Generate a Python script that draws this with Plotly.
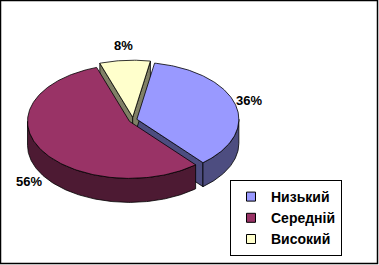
import numpy as np
import plotly.graph_objects as go

categories = ["Низький", "Середній", "Високий"]
values = [36, 56, 8]
labels = ["36%", "56%", "8%"]
top_colors = ["#9999FF", "#993366", "#FFFFCC"]
side_colors = ["#4D4D80", "#4D1A33", "#808066"]

# geometry of the projected 3D pie (plot units = pixels)
CX, CY, A, B, DEPTH = 133, 120, 102, 57, 24
START = 10       # degrees clockwise from 12 o'clock
EXPLODE = 4
LABEL_OFF = 18

W, H = 379, 265


def rim(theta, ox, oy, dz=0.0):
    t = np.radians(theta)
    return ox + A * np.sin(t), oy - B * np.cos(t) + dz


total = float(sum(values))
angles = []
acc = START
for v in values:
    span = v / total * 360.0
    angles.append((acc, acc + span))
    acc += span

walls_radial = []
walls_curved = []
tops = []
annots = []

for i, (t1, t2) in enumerate(angles):
    mid = (t1 + t2) / 2
    mr = np.radians(mid)
    ox = CX + EXPLODE * np.sin(mr)
    oy = CY - EXPLODE * np.cos(mr) * 0.7

    # radial walls
    for th, sign in ((t1, -1), (t2, 1)):
        if sign * np.sin(np.radians(th)) > 0:
            rx, ry = rim(th, ox, oy)
            xs = [ox, rx, rx, ox, ox]
            ys = [oy, ry, ry + DEPTH, oy + DEPTH, oy]
            walls_radial.append((xs, ys, side_colors[i]))

    # curved outer wall (front half: 90..270 deg)
    for base in (0, 360):
        lo = max(t1, 90 + base)
        hi = min(t2, 270 + base)
        if hi > lo:
            ths = np.linspace(lo, hi, int(hi - lo) + 2)
            tx, ty = rim(ths, ox, oy)
            bx, by = rim(ths[::-1], ox, oy, DEPTH)
            xs = list(tx) + list(bx) + [tx[0]]
            ys = list(ty) + list(by) + [ty[0]]
            walls_curved.append((xs, ys, side_colors[i]))

    # top face
    ths = np.linspace(t1, t2, int(t2 - t1) + 2)
    tx, ty = rim(ths, ox, oy)
    xs = [ox] + list(tx) + [ox]
    ys = [oy] + list(ty) + [oy]
    tops.append((xs, ys, top_colors[i]))

    # label position
    lx = CX + (A + LABEL_OFF) * np.sin(mr)
    ly = CY - (B + LABEL_OFF) * np.cos(mr) + (DEPTH if np.cos(mr) < 0 else 0)
    annots.append(dict(x=lx, y=ly, xref="x", yref="y", text=labels[i],
                       showarrow=False, xanchor="center", yanchor="middle",
                       font=dict(family="Arial, Liberation Sans", size=13,
                                 color="black", weight="bold")))

fig = go.Figure()
for xs, ys, c in walls_radial + walls_curved + tops:
    fig.add_trace(go.Scatter(x=xs, y=ys, mode="lines", fill="toself",
                             fillcolor=c, line=dict(color="black", width=0.8),
                             hoverinfo="skip", showlegend=False))

for name, c in zip(categories, top_colors):
    fig.add_trace(go.Scatter(x=[None], y=[None], mode="markers", name=name,
                             marker=dict(symbol="square", size=9, color=c,
                                         line=dict(color="black", width=1))))

fig.update_layout(
    width=W, height=H,
    margin=dict(l=0, r=0, t=0, b=0),
    paper_bgcolor="white", plot_bgcolor="white",
    xaxis=dict(range=[0, W], visible=False, fixedrange=True),
    yaxis=dict(range=[H, 0], visible=False, fixedrange=True),
    showlegend=True,
    legend=dict(x=230 / W, y=1 - 180 / H, xanchor="left", yanchor="top",
                bordercolor="black", borderwidth=1, bgcolor="white",
                itemsizing="trace",
                font=dict(family="Arial, Liberation Sans", size=14,
                          color="black", weight="bold")),
    annotations=annots,
    shapes=[dict(type="rect", xref="x", yref="y", x0=0.5, y0=0.5,
                 x1=377.5, y1=263.5, line=dict(color="black", width=1.5))],
)

fig.write_html("out.html")
